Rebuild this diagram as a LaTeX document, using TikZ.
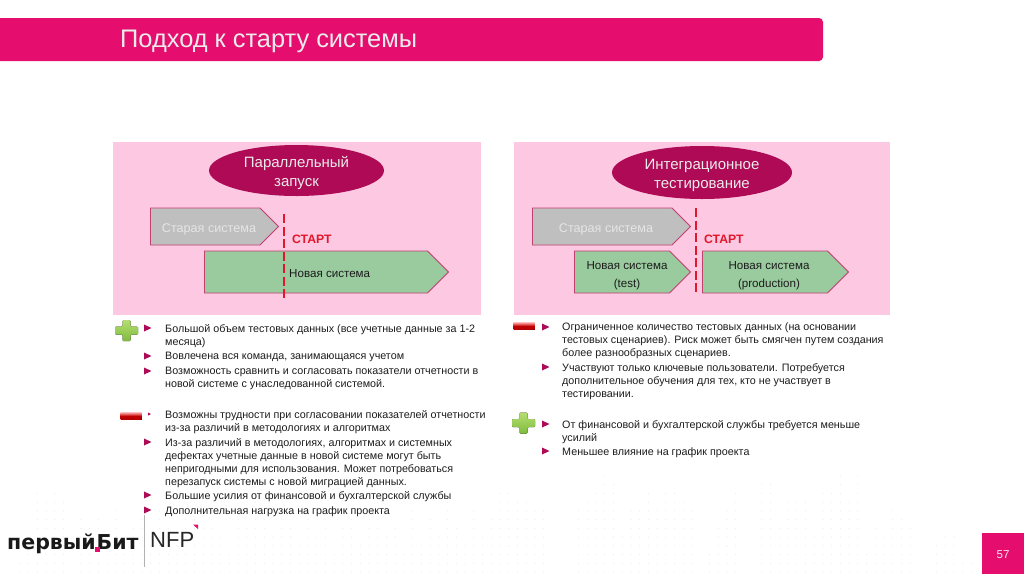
\documentclass[tikz,border=0pt]{standalone}
\usepackage{fontspec}
\setmainfont{Liberation Sans}
\newfontfamily\logofont{DejaVu Sans}
\usetikzlibrary{positioning, shapes.geometric, shapes.symbols}
\definecolor{brand_pink}{HTML}{E50D6E}
\definecolor{panel_pink}{HTML}{FCC8E2}
\definecolor{oval_red}{HTML}{AE0A55}
\definecolor{edge_pink}{HTML}{C2406E}
\definecolor{old_grey}{HTML}{BFBFBF}
\definecolor{new_green}{HTML}{9ACB9F}
\definecolor{start_red}{HTML}{E3172B}
\definecolor{body_text}{HTML}{1C1C1C}
\definecolor{dot_grey}{HTML}{EDEDED}
\definecolor{plus_top}{HTML}{B4DE72}
\definecolor{plus_btm}{HTML}{7FBB3C}

\begin{document}
\begin{tikzpicture}[
    x=1pt, y=-1pt, font=\fontsize{10.75}{13}\selectfont,
    panel/.style    ={draw=none, fill=panel_pink, anchor=north west, inner sep=0pt},
    oval/.style     ={ellipse, fill=oval_red, text=white!92!black, align=center, inner sep=0pt, font=\fontsize{15}{19}\selectfont},
    oval_txt/.style ={text=white!92!black, align=center, inner sep=0pt, font=\fontsize{15}{19}\selectfont},
    base_arrow/.style={signal, signal to=east, signal pointer angle=90, anchor=west, inner sep=0pt, line width=0.9pt, draw=edge_pink},
    arrow_old/.style={base_arrow, fill=old_grey, minimum width=128pt, minimum height=37pt},
    arrow_new/.style={base_arrow, fill=new_green, minimum height=42pt},
    lbl_old/.style  ={text=white!90!black, font=\fontsize{12.6}{15}\selectfont},
    lbl_new/.style  ={text=body_text, align=center, font=\fontsize{11.6}{18}\selectfont},
    start_lbl/.style={text=start_red, anchor=west, inner sep=0pt, font=\fontsize{12.2}{14}\selectfont\bfseries},
    start_line/.style={draw=start_red, line width=2.6pt, dash pattern=on 9pt off 3.5pt},
    item/.style     ={anchor=north west, inner sep=0pt, align=left, text=body_text, yshift=-1pt},
    logo_txt/.style ={inner sep=0pt, font=\logofont\fontsize{20.5}{24}\selectfont\bfseries, text=black!90},
    plus_sign/.pic  ={\fill[top color=plus_top, bottom color=plus_btm, rounded corners=1pt]
        (-4,-10.5) -- (4,-10.5) -- (4,-4) -- (11.5,-4) -- (11.5,4) -- (4,4) -- (4,10.5) -- (-4,10.5) -- (-4,4) -- (-11.5,4) -- (-11.5,-4) -- (-4,-4) -- cycle;},
    minus_sign/.pic ={\fill[top color=red!35, bottom color=red!70!black, middle color=red!75!black] (-10.5,-3.5) rectangle (10.5,3.5);}
]
\useasboundingbox (0,0) rectangle (1024,574);

% Dotted skyline in the background
\foreach \rowtop [count=\col] in {12,12,10,9,2,3,2,3,12,5,6,5,7,4,9,6,3,7,4,6,8,5,2,6,3,7,9,4,6,2,5,7,3,6,8,4,7,5,9,6,4,8,5,3,7,6,9,4,8,5,7,3,6,8,4,7,5,
    2,2,3,3,4,4,12,12,12,4,3,2,0,1,7,4,4,2,4,2,2,3,4,12,9,6,4,2,12,12,1,1,6,3,3,3,7,2,2,0,3,0,9,6,7,4,5,6,12,12,8,7,7,10,10}{
    \ifnum\rowtop<12
        \foreach \row in {\rowtop,...,11}
            \fill[dot_grey] ({2.4+(\col-1)*8.73},{476+\row*8.73}) circle (0.65);
    \fi
}

% Title bar
\fill[brand_pink, rounded corners=4pt] (-6,18) rectangle (823,61);
\node (title) [anchor=west, inner sep=0pt, text=white!92!black, font=\fontsize{25.4}{28}\selectfont] at (120,41) {Подход к старту системы};

% Left panel
\node (panel_par) [panel, minimum width=368pt, minimum height=173pt] at (113,142) {};
\node (oval_par) [oval, minimum width=175pt, minimum height=51pt] at (296.5,170.5) {};
\node (oval_par_lbl) [oval_txt] at (296.5,172.5) {Параллельный\\запуск};
\node (old_par) [arrow_old] at (150,226.5) {};
\node (new_par) [arrow_new, minimum width=244pt] at (204,272) {};
\node (old_par_lbl) [lbl_old] at (209,229.5) {Старая система};
\node (new_par_lbl) [lbl_new, anchor=west, inner sep=0pt] at (289,274) {Новая система};
\draw[start_line] (284,214) -- (284,300);
\node (start_par) [start_lbl] at (292,239) {СТАРТ};

% Right panel
\node (panel_int) [panel, minimum width=376pt, minimum height=173pt] at (514,142) {};
\node (oval_int) [oval, minimum width=180pt, minimum height=53pt] at (702,172.5) {};
\node (oval_int_lbl) [oval_txt] at (702,175.5) {Интеграционное\\тестирование};
\node (old_int) [arrow_old, minimum width=158pt] at (532,226.5) {};
\node (test_int) [arrow_new, minimum width=116pt] at (574,272) {};
\node (prod_int) [arrow_new, minimum width=146pt] at (702,272) {};
\node (old_int_lbl) [lbl_old] at (606,229.5) {Старая система};
\node (test_int_lbl) [lbl_new] at (627,276) {Новая система\\(test)};
\node (prod_int_lbl) [lbl_new] at (769,276) {Новая система\\(production)};
\draw[start_line] (696,208) -- (696,294);
\node (start_int) [start_lbl] at (704,239) {СТАРТ};

% Signs
\pic at (126.5,330.5) {plus_sign};
\pic at (131,416) {minus_sign};
\pic at (524,326) {minus_sign};
\pic at (523.5,423) {plus_sign};

% Bullets
\foreach \bx/\by in {144/328, 144/356, 144/371, 144/442, 144/495, 144/510, 542/327, 542/367, 542/424, 542/451}
    \fill[oval_red] (\bx,\by-3.5) -- (\bx+7.5,\by) -- (\bx,\by+3.5) -- cycle;
\fill[oval_red] (148,412.5) -- (151,414) -- (148,415.5) -- cycle;

% Left list
\node (par_a) [item] at (165,323) {Большой объем тестовых данных (все учетные данные за 1-2\\месяца)};
\node (par_b) [item] at (165,351) {Вовлечена вся команда, занимающаяся учетом};
\node (par_c) [item] at (165,366) {Возможность сравнить и согласовать показатели отчетности в\\новой системе с унаследованной системой.};
\node (par_d) [item] at (165,409) {Возможны трудности при согласовании показателей отчетности\\из-за различий в методологиях и алгоритмах};
\node (par_e) [item] at (165,437) {Из-за различий в методологиях, алгоритмах и системных\\дефектах учетные данные в новой системе могут быть\\непригодными для использования. Может потребоваться\\перезапуск системы с новой миграцией данных.};
\node (par_f) [item] at (165,490) {Большие усилия от финансовой и бухгалтерской службы};
\node (par_g) [item] at (165,505) {Дополнительная нагрузка на график проекта};

% Right list
\node (int_a) [item] at (562,322) {Ограниченное количество тестовых данных (на основании\\тестовых сценариев). Риск может быть смягчен путем создания\\более разнообразных сценариев.};
\node (int_b) [item] at (562,362) {Участвуют только ключевые пользователи. Потребуется\\дополнительное обучения для тех, кто не участвует в\\тестировании.};
\node (int_c) [item] at (562,419) {От финансовой и бухгалтерской службы требуется меньше\\усилий};
\node (int_d) [item] at (562,446) {Меньшее влияние на график проекта};

% Logos
\node (logo_first) [logo_txt, anchor=base west] at (7,549) {первый};
\node (logo_bit) [logo_txt, base right=0.5pt of logo_first] {Бит};
\fill[brand_pink] (94.5,546.5) rectangle (99.5,551.5);
\draw[black!30, line width=0.7pt] (144,515) -- (144,567);
\node (logo_nfp) [anchor=west, inner sep=0pt, font=\fontsize{22}{26}\selectfont, text=black!85] at (150,540) {NFP};
\fill[brand_pink] (193,524.5) -- (198,524.5) -- (198,529) -- cycle;

% Page number
\fill[brand_pink] (982,533) rectangle (1024,574);
\node (page_no) [text=white!92!black, font=\fontsize{11.5}{13}\selectfont] at (1003,555) {57};

\end{tikzpicture}
\end{document}
